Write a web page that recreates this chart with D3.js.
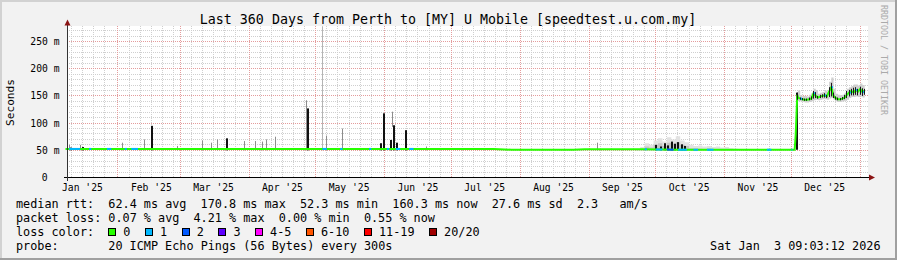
<!DOCTYPE html>
<html>
<head>
<meta charset="utf-8">
<script src="https://cdn.jsdelivr.net/npm/d3@7"></script>
<style>
  body { margin: 0; background: #f2f2f2; }
  svg { display: block; }
  text { font-family: "DejaVu Sans Mono", monospace; white-space: pre; }
</style>
</head>
<body>
<svg id="chart" width="897" height="260"></svg>
<script>
// ---- data ----
const titleText = "Last 360 Days from Perth to [MY] U Mobile [speedtest.u.com.my]";
const timeStart = "2025-01-08T09:03Z";
const timeEnd = "2026-01-03T09:03Z";

const yTickValues = [0, 50, 100, 150, 200, 250];
const yTickLabels = ["0", "50 m", "100 m", "150 m", "200 m", "250 m"];
const monthStarts = ["2025-01-01", "2025-02-01", "2025-03-01", "2025-04-01", "2025-05-01", "2025-06-01",
                     "2025-07-01", "2025-08-01", "2025-09-01", "2025-10-01", "2025-11-01", "2025-12-01"];
const monthLabels = ["Jan '25", "Feb '25", "Mar '25", "Apr '25", "May '25", "Jun '25",
                     "Jul '25", "Aug '25", "Sep '25", "Oct '25", "Nov '25", "Dec '25"];

// median rtt (ms) up to the step in December
const medianDates = ["2025-01-08T09:03Z", "2025-07-20", "2025-07-28", "2025-08-25", "2025-08-30", "2025-09-25",
  "2025-10-10", "2025-12-02T12:00Z", "2025-12-02T23:00Z", "2025-12-03T16:00Z"];
const medianValues = [52.5, 52.5, 51, 51, 52, 52, 51, 51, 78, 152];

// December onwards, one value per day: median, dark smoke low/high, light smoke high
const decDates = ["2025-12-04", "2025-12-05", "2025-12-06", "2025-12-07", "2025-12-08", "2025-12-09",
  "2025-12-10", "2025-12-11", "2025-12-12", "2025-12-13", "2025-12-14", "2025-12-15", "2025-12-16",
  "2025-12-17", "2025-12-18", "2025-12-19", "2025-12-20", "2025-12-21", "2025-12-22", "2025-12-23",
  "2025-12-24", "2025-12-25", "2025-12-26", "2025-12-27", "2025-12-28", "2025-12-29", "2025-12-30",
  "2025-12-31", "2026-01-01", "2026-01-02", "2026-01-03"];
const decMedian = [147, 145, 144, 143, 143, 144, 145, 155, 150, 147, 149, 150, 151,
  149, 158, 166, 150, 146, 144, 144, 145, 147, 152, 156, 159, 156, 161, 158, 163, 157, 160];
const decDarkLow = [143, 143, 142, 141, 141, 142, 143, 145, 146, 145, 146, 147, 147,
  146, 148, 149, 146, 143, 142, 142, 143, 144, 146, 149, 151, 151, 152, 151, 152, 150, 152];
const decDarkHigh = [156, 147, 146, 145, 145, 147, 149, 159, 157, 150, 152, 153, 155,
  152, 166, 174, 156, 149, 147, 146, 148, 152, 159, 161, 163, 165, 166, 163, 167, 164, 163];
const decLightHigh = [160, 151, 150, 150, 149, 152, 155, 163, 161, 154, 156, 157, 160,
  158, 176, 184, 163, 154, 152, 151, 152, 156, 163, 166, 168, 171, 171, 169, 173, 170, 168];

// stretches where the median carries 1 (or 2) lost pings
const lossStart = ["2025-01-10", "2025-01-19", "2025-01-27", "2025-02-04", "2025-02-07", "2025-05-04", "2025-05-12",
  "2025-05-25", "2025-06-02", "2025-06-06", "2025-06-12", "2025-09-26", "2025-10-01", "2025-10-06", "2025-10-11",
  "2025-10-18", "2025-10-24", "2025-11-20", "2025-12-01"];
const lossEnd = ["2025-01-15", "2025-01-20", "2025-01-29", "2025-02-05", "2025-02-10", "2025-05-06", "2025-05-13",
  "2025-05-26", "2025-06-03", "2025-06-08", "2025-06-14", "2025-09-27", "2025-10-04", "2025-10-09", "2025-10-15",
  "2025-10-20", "2025-10-27", "2025-11-22", "2025-12-01T12:00Z"];
const lossLevel = [1, 1, 1, 1, 1, 1, 1, 1, 1, 1, 1, 1, 1, 2, 1, 1, 1, 1, 1];
const decLossDates = ["2025-12-05", "2025-12-11", "2025-12-16", "2025-12-19", "2025-12-27", "2025-12-30", "2026-01-02"];

// smoke spikes: date, low, high (ms), shade
const spikeDates = ["2025-01-10", "2025-01-10T12:00Z", "2025-01-15", "2025-01-16", "2025-02-03", "2025-02-13",
  "2025-02-16", "2025-02-28", "2025-03-11", "2025-03-15", "2025-03-18", "2025-03-22", "2025-03-30", "2025-04-04",
  "2025-04-07", "2025-04-09", "2025-04-13", "2025-04-27", "2025-04-27T12:00Z", "2025-05-04", "2025-05-06",
  "2025-05-13", "2025-05-30", "2025-05-31T12:00Z", "2025-06-03T12:00Z", "2025-06-04T18:00Z", "2025-06-05",
  "2025-06-06T12:00Z", "2025-06-10T12:00Z", "2025-06-20", "2025-09-05",
  "2025-10-01", "2025-10-03", "2025-10-05", "2025-10-06T12:00Z", "2025-10-08", "2025-10-09T12:00Z",
  "2025-10-11", "2025-10-12T12:00Z", "2025-10-14", "2025-12-03T10:00Z"];
const spikeLow = [50, 50, 50, 50, 50, 50,
  50, 50, 50, 50, 50, 50, 50, 50,
  50, 50, 50, 50, 50, 50, 50,
  50, 50, 50, 50, 93, 50,
  50, 50, 50, 50,
  50, 50, 50, 50, 50, 50,
  50, 50, 50, 51];
const spikeHigh = [60, 55, 60, 56, 64, 70,
  95, 58, 68, 64, 70, 72, 67, 67,
  66, 70, 75, 142, 127, 278, 77,
  90, 63, 118, 69, 121, 96,
  64, 87, 57, 64,
  60, 57, 63, 59, 66, 62,
  65, 61, 58, 156];
const spikeShade = ["g", "k", "g", "k", "g", "g",
  "k", "g", "g", "g", "g", "k", "g", "g",
  "g", "g", "g", "g", "k", "l", "g",
  "g", "k", "k", "k", "g", "k",
  "k", "k", "g", "g",
  "k", "k", "k", "k", "k", "k",
  "k", "k", "k", "k"];

// light smoke in Sep-Nov
const smokeDates = ["2025-09-22", "2025-09-24", "2025-09-26", "2025-09-28", "2025-09-30", "2025-10-02",
  "2025-10-04", "2025-10-06", "2025-10-08", "2025-10-10", "2025-10-12", "2025-10-14", "2025-10-16",
  "2025-10-18", "2025-10-20", "2025-10-22", "2025-10-24", "2025-10-26", "2025-10-28", "2025-10-30",
  "2025-11-01", "2025-11-03", "2025-11-05", "2025-11-07"];
const smokeHigh = [53, 56, 63, 60, 68, 72, 66, 74, 70, 76, 68, 65, 60, 58, 59, 57, 58, 56, 57, 55, 56, 54, 53, 52];
const smokeMid = [51, 52, 57, 55, 60, 63, 58, 64, 62, 65, 60, 58, 54, 53, 53, 52, 53, 52, 52, 51, 51, 51, 51, 51];

const lossColors = ["#26ff00", "#00b8ff", "#0059ff", "#5e00ff", "#ff00ff", "#ff5500", "#ff0000", "#a00000"];
const lossLabels = ["0", "1", "2", "3", "4-5", "6-10", "11-19", "20/20"];

const legendRtt = ["median rtt:  62.4 ms avg", "170.8 ms max", "52.3 ms min", "160.3 ms now", "27.6 ms sd", "2.3   am/s"];
const legendLoss = ["packet loss: 0.07 % avg", "4.21 % max", "0.00 % min", "0.55 % now"];
const probeText = "20 ICMP Echo Pings (56 Bytes) every 300s";
const stampText = "Sat Jan  3 09:03:12 2026";

// ---- drawing ----
const W = 897, H = 260;
const plot = {left: 67, right: 868, top: 26, bottom: 178};
const charW = 7.1, legendX = 16;
const svg = d3.select("#chart");
const P = d => new Date(d);

const x = d3.scaleUtc().domain([P(timeStart), P(timeEnd)]).range([65.5, 865.5]);
const y = d3.scaleLinear().domain([0, 278.5]).range([177.5, 26]);
const px = v => Math.floor(v) + 0.5;

// frame
svg.append("rect").attr("width", W).attr("height", H).attr("fill", "#f2f2f2");
svg.append("rect").attr("x", 0).attr("y", 0).attr("width", W).attr("height", 2).attr("fill", "#d2d2d2");
svg.append("rect").attr("x", 0).attr("y", 0).attr("width", 2).attr("height", H).attr("fill", "#d2d2d2");
svg.append("rect").attr("x", 0).attr("y", H - 2).attr("width", W).attr("height", 2).attr("fill", "#a0a0a0");
svg.append("rect").attr("x", W - 2).attr("y", 0).attr("width", 2).attr("height", H).attr("fill", "#a0a0a0");

// canvas
svg.append("rect")
  .attr("x", plot.left).attr("y", plot.top)
  .attr("width", plot.right - plot.left).attr("height", plot.bottom - plot.top)
  .attr("fill", "#ffffff");

const grid = svg.append("g").attr("stroke-width", 1).attr("stroke-dasharray", "1,1");

// minor horizontal grid every 10 ms
d3.range(10, 279, 10).filter(v => v % 50 !== 0).forEach(v => {
  grid.append("line").attr("x1", plot.left).attr("x2", plot.right)
    .attr("y1", px(y(v))).attr("y2", px(y(v))).attr("stroke", "#cfcfcf");
});

// minor vertical grid: days 6, 11, 16, 21, 26 of each month
const [t0, t1] = x.domain();
monthStarts.concat(["2026-01-01"]).forEach(m => {
  [5, 10, 15, 20, 25].forEach(off => {
    const t = d3.utcDay.offset(P(m), off);
    if (t > t0 && t < t1) {
      grid.append("line").attr("x1", px(x(t))).attr("x2", px(x(t)))
        .attr("y1", plot.top).attr("y2", plot.bottom).attr("stroke", "#cfcfcf");
    }
  });
});

// major grid
yTickValues.filter(v => v > 0).forEach(v => {
  grid.append("line").attr("x1", plot.left).attr("x2", plot.right)
    .attr("y1", px(y(v))).attr("y2", px(y(v))).attr("stroke", "#e49c9c");
});
monthStarts.slice(1).concat(["2026-01-01"]).forEach(m => {
  grid.append("line").attr("x1", px(x(P(m)))).attr("x2", px(x(P(m))))
    .attr("y1", plot.top).attr("y2", plot.bottom).attr("stroke", "#e49c9c");
});

// smoke
const data = svg.append("g");
const stepArea = d3.area().curve(d3.curveStepAfter)
  .x(d => x(d[0])).y0(d => y(d[1])).y1(d => y(d[2]));
data.append("path")
  .datum(smokeDates.map((d, i) => [P(d), 50, smokeHigh[i]]))
  .attr("fill", "#e2e2e2").attr("d", stepArea);
data.append("path")
  .datum(smokeDates.map((d, i) => [P(d), 50, smokeMid[i]]))
  .attr("fill", "#c4c4c4").attr("d", stepArea);
data.append("path")
  .datum(decDates.map((d, i) => [P(d), decDarkLow[i] - 3, decLightHigh[i]]))
  .attr("fill", "#d0d0d0").attr("d", stepArea);

const shadeColor = {k: "#111111", g: "#8c8c8c", l: "#b4b4b4"};
spikeDates.forEach((d, i) => {
  const xx = Math.floor(x(P(d)));
  data.append("rect")
    .attr("x", xx).attr("width", spikeShade[i] === "k" ? 2 : 1)
    .attr("y", y(spikeHigh[i])).attr("height", y(spikeLow[i]) - y(spikeHigh[i]))
    .attr("fill", shadeColor[spikeShade[i]]);
});

// median line coloured by loss
const medianPts = medianDates.map((d, i) => [P(d), medianValues[i]])
  .concat(decDates.map((d, i) => [P(d), decMedian[i]]));
const medianAt = d3.scaleUtc().domain(medianPts.map(d => d[0])).range(medianPts.map(d => d[1]));
const line = d3.line().x(d => x(d[0])).y(d => y(d[1]));
data.append("path").datum(medianPts)
  .attr("fill", "none").attr("stroke", lossColors[0]).attr("stroke-width", 2).attr("d", line);
lossStart.forEach((s, i) => {
  const a = P(s), b = P(lossEnd[i]);
  const pts = [[a, medianAt(a)]]
    .concat(medianPts.filter(p => p[0] > a && p[0] < b))
    .concat([[b, medianAt(b)]]);
  data.append("path").datum(pts)
    .attr("fill", "none").attr("stroke", lossColors[lossLevel[i]]).attr("stroke-width", 2).attr("d", line);
});
decLossDates.forEach(d => {
  data.append("rect").attr("x", Math.floor(x(P(d)))).attr("width", 2)
    .attr("y", y(medianAt(P(d))) - 1).attr("height", 2).attr("fill", lossColors[1]);
});

// dark smoke around the median in December
decDates.forEach((d, i) => {
  const xx = Math.floor(x(P(d)));
  data.append("rect")
    .attr("x", xx).attr("width", 1)
    .attr("y", y(decDarkHigh[i])).attr("height", y(decDarkLow[i]) - y(decDarkHigh[i]))
    .attr("fill", "#1a1a1a");
});

// axes
svg.append("line").attr("x1", 64).attr("x2", 870).attr("y1", 177.5).attr("y2", 177.5)
  .attr("stroke", "#000").attr("stroke-width", 1);
svg.append("line").attr("x1", 67.5).attr("x2", 67.5).attr("y1", 181).attr("y2", 24)
  .attr("stroke", "#333").attr("stroke-width", 1);
svg.append("path").attr("d", "M869,174.5 L875,177.5 L869,180.5 Z").attr("fill", "#8b1414");
svg.append("path").attr("d", "M64.5,25.5 L67.5,19.5 L70.5,25.5 Z").attr("fill", "#8b1414");

// y tick labels
yTickValues.forEach((v, i) => {
  svg.append("text")
    .attr("x", v === 0 ? 47.5 : 59.5).attr("y", px(y(v)) + 3.5)
    .attr("text-anchor", "end")
    .style("font-size", "9.7px").attr("fill", "#000")
    .text(yTickLabels[i]);
});

// x tick labels at mid-month
monthStarts.forEach((m, i) => {
  svg.append("text")
    .attr("x", x(d3.utcDay.offset(P(m), 15))).attr("y", 190.5)
    .attr("text-anchor", "middle")
    .style("font-size", "9.7px").attr("fill", "#000")
    .text(monthLabels[i]);
});

// titles
svg.append("text").attr("x", 448).attr("y", 24).attr("text-anchor", "middle")
  .style("font-size", "13.3px").attr("fill", "#000").text(titleText);
svg.append("text").attr("transform", "translate(14,102.5) rotate(-90)")
  .attr("text-anchor", "middle").style("font-size", "11.1px").attr("fill", "#000").text("Seconds");
svg.append("text").attr("transform", "translate(881,5) rotate(90)")
  .style("font-size", "8.3px").attr("fill", "#aaaaaa").text("RRDTOOL / TOBI OETIKER");

// legend
const rttCols = [0, 26, 40, 53, 67, 79];
legendRtt.forEach((t, i) => {
  svg.append("text").attr("x", legendX + rttCols[i] * charW).attr("y", 208)
    .style("font-size", "11.8px").attr("fill", "#000").text(t);
});
const lossCols = [0, 25, 37, 49];
legendLoss.forEach((t, i) => {
  svg.append("text").attr("x", legendX + lossCols[i] * charW).attr("y", 222)
    .style("font-size", "11.8px").attr("fill", "#000").text(t);
});
svg.append("text").attr("x", legendX).attr("y", 236)
  .style("font-size", "11.8px").attr("fill", "#000").text("loss color:");
let bx = 108.3;
lossLabels.forEach((t, i) => {
  svg.append("rect").attr("x", Math.round(bx) + 0.5).attr("y", 228.5).attr("width", 7).attr("height", 7)
    .attr("fill", lossColors[i]).attr("stroke", "#000").attr("stroke-width", 1);
  svg.append("text").attr("x", bx + 15).attr("y", 236)
    .style("font-size", "11.8px").attr("fill", "#000").text(t);
  bx += 15 + t.length * charW + 14.6;
});
svg.append("text").attr("x", legendX).attr("y", 250)
  .style("font-size", "11.8px").attr("fill", "#000").text("probe:");
svg.append("text").attr("x", legendX + 13 * charW).attr("y", 250)
  .style("font-size", "11.8px").attr("fill", "#000").text(probeText);
svg.append("text").attr("x", 880.5).attr("y", 250).attr("text-anchor", "end")
  .style("font-size", "11.8px").attr("fill", "#000").text(stampText);
</script>
</body>
</html>
